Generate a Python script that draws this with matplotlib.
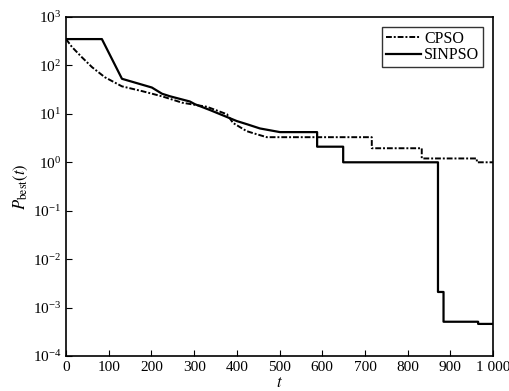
import numpy as np
import matplotlib.pyplot as plt

plt.rcParams['font.family'] = ['Liberation Serif', 'DejaVu Serif']
plt.rcParams['mathtext.fontset'] = 'stix'

# best fitness vs iteration (breakpoints, repeated t gives a vertical step)
cpso_t = [0, 14, 37, 61, 91, 131, 178, 225, 272, 330, 377, 391, 423, 438, 470,
          716, 716, 833, 833, 962, 962, 1000]
cpso_v = [350, 240, 148, 92, 57, 37, 29.5, 23, 17, 14, 9.8, 6.5, 4.4, 4.0, 3.3,
          3.3, 1.95, 1.95, 1.2, 1.2, 1.0, 1.0]

sinpso_t = [0, 84, 131, 201, 225, 244, 290, 302, 337, 400, 424, 454, 501,
            588, 588, 649, 649, 871, 871, 884, 884, 965, 965, 1000]
sinpso_v = [350, 350, 53, 35, 26, 23, 18, 15.8, 12, 7.1, 6.1, 5.0, 4.2,
            4.2, 2.1, 2.1, 1.0, 1.0, 2.1e-3, 2.1e-3, 5.1e-4, 5.1e-4, 4.6e-4, 4.6e-4]

xticks = list(range(0, 1001, 100))
xlabels = ['0', '100', '200', '300', '400', '500', '600', '700', '800', '900', '1 000']

fig = plt.figure(figsize=(5.09, 3.91), dpi=100)
ax = fig.add_axes([0.1297, 0.0895, 0.839, 0.867])

ax.plot(cpso_t, cpso_v, color='black', lw=1.4, ls=(0, (3, 1, 1, 1)), label='CPSO')
ax.plot(sinpso_t, sinpso_v, color='black', lw=1.6, label='SINPSO')

ax.set_yscale('log')
ax.set_xlim(0, 1000)
ax.set_ylim(1e-4, 1e3)
ax.set_yticks([10.0**k for k in range(-4, 4)])
ax.yaxis.set_minor_locator(plt.NullLocator())
ax.set_xticks(xticks)
ax.set_xticklabels(xlabels)
ax.tick_params(direction='in', length=4, labelsize=11, width=0.8)
for s in ax.spines.values():
    s.set_linewidth(1.2)

ax.set_xlabel('$t$', fontsize=12, labelpad=1)
ax.set_ylabel(r'$P_{\rm best}(t)$', fontsize=12, labelpad=2)

leg = ax.legend(loc='upper right', fontsize=11.5, frameon=True, fancybox=False,
                handlelength=2.2, handletextpad=0.2, borderpad=0.25,
                labelspacing=0.05, borderaxespad=0.6)
leg.get_frame().set_edgecolor('black')
leg.get_frame().set_linewidth(1.0)

fig.savefig('out.png', dpi=100)
